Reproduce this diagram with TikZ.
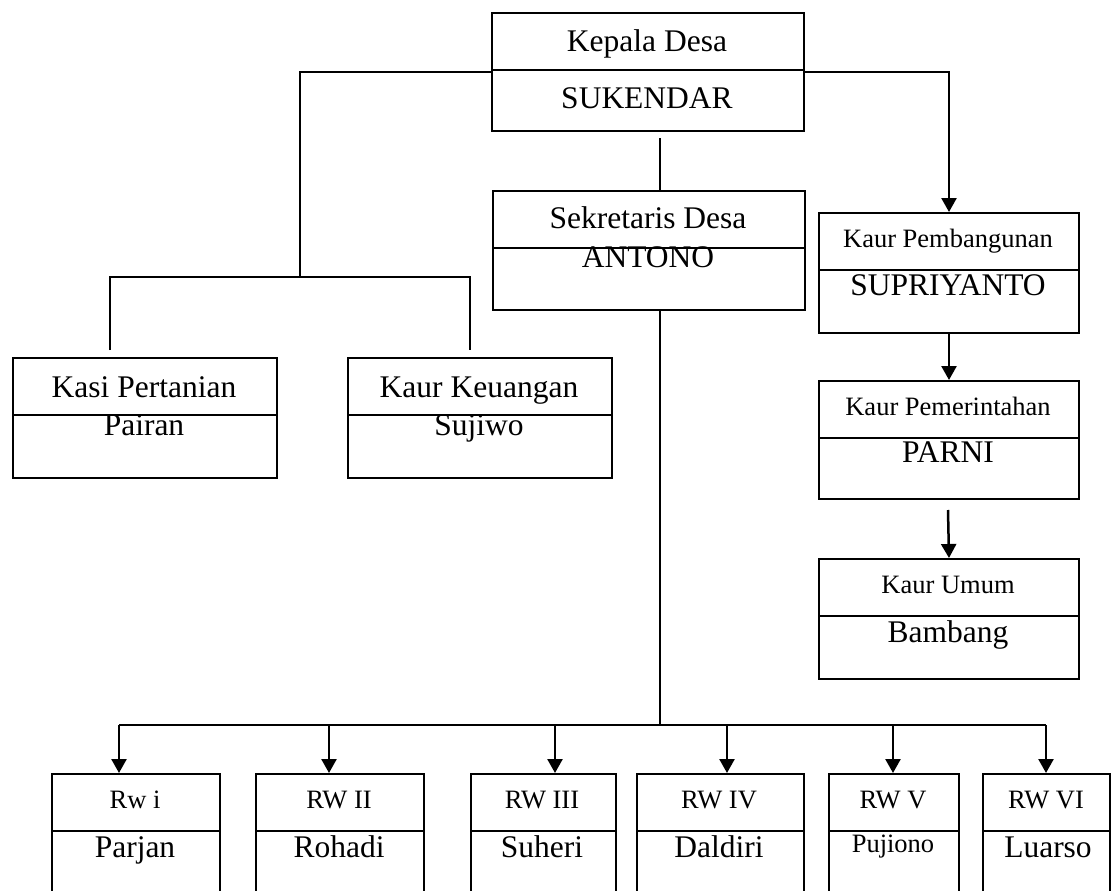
\documentclass[tikz,border=0pt]{standalone}
\usepackage{fontspec}
\setmainfont{Liberation Serif}
\usepackage{tikz}
\usetikzlibrary{positioning}
\usetikzlibrary{arrows.meta}

\tikzset{
box/.style={draw,line width=2pt,anchor=north west,inner sep=0pt},
big/.style={anchor=base,inner sep=0pt,font=\fontsize{31.5}{36}\selectfont},
small/.style={anchor=base,inner sep=0pt,font=\fontsize{26.5}{30}\selectfont},
link/.style={line width=2pt},
arr/.style={line width=2.5pt,-{Triangle[width=15pt,length=14pt]}}
}

\begin{document}
\begin{tikzpicture}[x=1pt,y=-1pt]
\clip (0,0) rectangle (1112,891);
\fill[white] (0,0) rectangle (1112,891);
% boxes
\path
(491,12) node [box,minimum width=312,minimum height=118](kades) {}
(492,190) node [box,minimum width=312,minimum height=119](sekdes) {}
(818,212) node [box,minimum width=260,minimum height=120](pemb) {}
(818,380) node [box,minimum width=260,minimum height=118](pemer) {}
(818,558) node [box,minimum width=260,minimum height=120](umum) {}
(12,357) node [box,minimum width=264,minimum height=120](kasi) {}
(347,357) node [box,minimum width=264,minimum height=120](keu) {}
(51,773) node [box,minimum width=168,minimum height=140](rw1) {}
(255,773) node [box,minimum width=168,minimum height=140](rw2) {}
(470,773) node [box,minimum width=145,minimum height=140](rw3) {}
(636,773) node [box,minimum width=167,minimum height=140](rw4) {}
(828,773) node [box,minimum width=130,minimum height=140](rw5) {}
(982,773) node [box,minimum width=127,minimum height=140](rw6) {};
% dividers
\draw [link](kades.west |- 0,70) -- (kades.east |- 0,70);
\draw [link](sekdes.west |- 0,248) -- (sekdes.east |- 0,248);
\draw [link](pemb.west |- 0,270) -- (pemb.east |- 0,270);
\draw [link](pemer.west |- 0,438) -- (pemer.east |- 0,438);
\draw [link](umum.west |- 0,616) -- (umum.east |- 0,616);
\draw [link](kasi.west |- 0,415) -- (kasi.east |- 0,415);
\draw [link](keu.west |- 0,415) -- (keu.east |- 0,415);
\foreach \b in {rw1,rw2,rw3,rw4,rw5,rw6}
  \draw [link](\b.west |- 0,831) -- (\b.east |- 0,831);
% texts
\path
(647,52) node [big](kadesT) {Kepala Desa}
(647,108) node [big](kadesN) {SUKENDAR}
(648,228) node [big](sekdesT) {Sekretaris Desa}
(648,267) node [big](sekdesN) {ANTONO}
(948,247) node [small](pembT) {Kaur Pembangunan}
(948,295) node [big](pembN) {SUPRIYANTO}
(948,415) node [small](pemerT) {Kaur Pemerintahan}
(948,462) node [big](pemerN) {PARNI}
(948,593) node [small](umumT) {Kaur Umum}
(948,642) node [big](umumN) {Bambang}
(144,397) node [big](kasiT) {Kasi Pertanian}
(144,435) node [big](kasiN) {Pairan}
(479,397) node [big](keuT) {Kaur Keuangan}
(479,435) node [big](keuN) {Sujiwo}
(135,808) node [small](rw1T) {Rw i}
(135,857) node [big](rw1N) {Parjan}
(339,808) node [small](rw2T) {RW II}
(339,857) node [big](rw2N) {Rohadi}
(542,808) node [small](rw3T) {RW III}
(542,857) node [big](rw3N) {Suheri}
(719,808) node [small](rw4T) {RW IV}
(719,857) node [big](rw4N) {Daldiri}
(893,808) node [small](rw5T) {RW V}
(893,852) node [small](rw5N) {Pujiono}
(1046,808) node [small](rw6T) {RW VI}
(1048,857) node [big](rw6N) {Luarso};
% connectors
\coordinate (lj) at (300,277);
\coordinate (kasiin) at (110,350);
\coordinate (keuin) at (470,350);
\coordinate (kt) at (660,138);
\coordinate (rwbar) at (660,725);
\coordinate (umumin) at (948,510);
\draw [link](kades.west) -| (lj);
\draw [link](kasiin) -- (kasiin |- lj) -- (keuin |- lj) -- (keuin);
\draw [link](kt) -- (kt |- sekdes.north);
\draw [arr](kades.east) -| (pemb.north);
\draw [arr](pemb.south) -- (pemer.north);
\draw [arr](umumin) -- (umum.north);
\draw [link](kt |- sekdes.south) -- (rwbar);
\draw [link](rwbar -| 119,0) -- (rwbar -| 1046,0);
\foreach \b/\x in {rw1/119,rw2/329,rw3/555,rw4/727,rw5/893,rw6/1046}
  \draw [arr](rwbar -| \x,0) -- (\b.north -| \x,0);
\end{tikzpicture}
\end{document}
